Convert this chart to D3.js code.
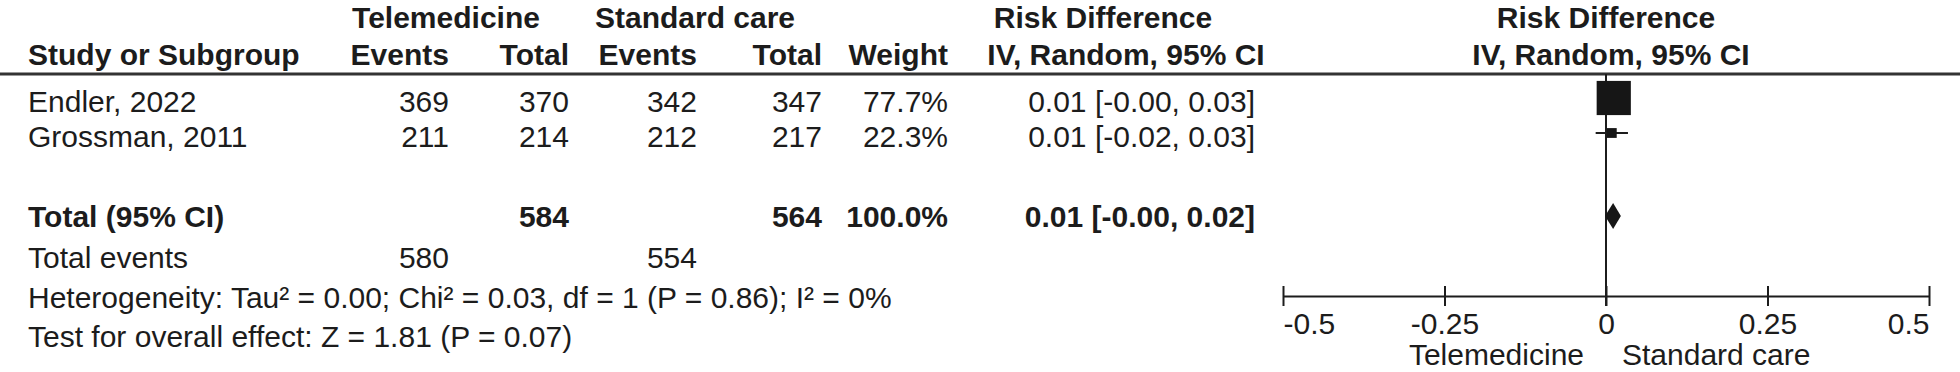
<!DOCTYPE html>
<html>
<head>
<meta charset="utf-8">
<script src="https://cdn.jsdelivr.net/npm/d3@7"></script>
<style>
    body { margin: 0; background: #fff; }
    text { font-family: "Liberation Sans", Arial, sans-serif; font-size: 30px; fill: #1c1c1c; }
    .bold { font-weight: bold; }
</style>
</head>
<body>
<div id="forest"></div>
<script>
const studies = ["Endler, 2022", "Grossman, 2011"];
const teleEvents = [369, 211];
const teleTotal = [370, 214];
const stdEvents = [342, 212];
const stdTotal = [347, 217];
const weights = [77.7, 22.3];
const rdEst = [0.012, 0.009];
const rdLow = [-0.002, -0.016];
const rdHigh = [0.025, 0.034];
const rdLabels = ["0.01 [-0.00, 0.03]", "0.01 [-0.02, 0.03]"];

const pooledRd = {est: 0.011, low: -0.0015, high: 0.023};
const pooledLabel = "0.01 [-0.00, 0.02]";
const totalParticipants = [584, 564];
const totalEvents = [580, 554];
const totalWeight = "100.0%";
const heterogeneity = "Heterogeneity: Tau\u00b2 = 0.00; Chi\u00b2 = 0.03, df = 1 (P = 0.86); I\u00b2 = 0%";
const overallEffect = "Test for overall effect: Z = 1.81 (P = 0.07)";

const axisTicks = [-0.5, -0.25, 0, 0.25, 0.5];
const favourLabels = ["Telemedicine", "Standard care"];

const w = 1960,
    h = 372;

// right-edge x of each numeric column
const col = {
    label: 28,
    teleEvents: 449,
    teleTotal: 569,
    stdEvents: 697,
    stdTotal: 822,
    weight: 948,
    rd: 1255
};

const headerLine = 74,
    axisY = 296;

let svg = d3.select("#forest")
    .append("svg")
    .attr("width", w)
    .attr("height", h);

let x = d3.scaleLinear().domain([-0.5, 0.5]).range([1283, 1929]);
let rowY = d3.scaleLinear().domain([0, 1]).range([112, 147]);
let boxSize = d3.scaleLinear().domain([0, 100]).range([0, 44]);

function addText(tx, ty, str, anchor, cls) {
    svg.append("text")
        .attr("x", tx)
        .attr("y", ty)
        .attr("text-anchor", anchor || "start")
        .attr("class", cls || null)
        .text(str);
}

// headers
addText(446, 28, "Telemedicine", "middle", "bold");
addText(695, 28, "Standard care", "middle", "bold");
addText(1103, 28, "Risk Difference", "middle", "bold");
addText(1606, 28, "Risk Difference", "middle", "bold");

addText(col.label, 65, "Study or Subgroup", "start", "bold");
addText(col.teleEvents, 65, "Events", "end", "bold");
addText(col.teleTotal, 65, "Total", "end", "bold");
addText(col.stdEvents, 65, "Events", "end", "bold");
addText(col.stdTotal, 65, "Total", "end", "bold");
addText(col.weight, 65, "Weight", "end", "bold");
addText(1126, 65, "IV, Random, 95% CI", "middle", "bold");
addText(1611, 65, "IV, Random, 95% CI", "middle", "bold");

svg.append("line")
    .attr("x1", 0).attr("x2", w)
    .attr("y1", headerLine).attr("y2", headerLine)
    .style("stroke", "#333")
    .style("stroke-width", 3);

// study rows
studies.forEach(function (s, i) {
    let y = rowY(i);
    addText(col.label, y, s);
    addText(col.teleEvents, y, teleEvents[i], "end");
    addText(col.teleTotal, y, teleTotal[i], "end");
    addText(col.stdEvents, y, stdEvents[i], "end");
    addText(col.stdTotal, y, stdTotal[i], "end");
    addText(col.weight, y, weights[i].toFixed(1) + "%", "end");
    addText(col.rd, y, rdLabels[i], "end");
});

// totals
const totalY = 227, eventsY = 268, hetY = 308, testY = 347;
addText(col.label, totalY, "Total (95% CI)", "start", "bold");
addText(col.teleTotal, totalY, totalParticipants[0], "end", "bold");
addText(col.stdTotal, totalY, totalParticipants[1], "end", "bold");
addText(col.weight, totalY, totalWeight, "end", "bold");
addText(col.rd, totalY, pooledLabel, "end", "bold");

addText(col.label, eventsY, "Total events");
addText(col.teleEvents, eventsY, totalEvents[0], "end");
addText(col.stdEvents, eventsY, totalEvents[1], "end");
addText(col.label, hetY, heterogeneity);
addText(col.label, testY, overallEffect);

// plot
svg.append("line")
    .attr("x1", x(0)).attr("x2", x(0))
    .attr("y1", headerLine).attr("y2", axisY + 10)
    .style("stroke", "#1c1c1c")
    .style("stroke-width", 2);

let marks = svg.append("g");

marks.selectAll("line.ci")
    .data(studies)
    .enter()
    .append("line")
    .attr("class", "ci")
    .attr("x1", function (d, i) { return x(rdLow[i]); })
    .attr("x2", function (d, i) { return x(rdHigh[i]); })
    .attr("y1", function (d, i) { return rowY(i) - 14; })
    .attr("y2", function (d, i) { return rowY(i) - 14; })
    .style("stroke", "#1c1c1c")
    .style("stroke-width", 2);

marks.selectAll("rect")
    .data(studies)
    .enter()
    .append("rect")
    .attr("x", function (d, i) { return x(rdEst[i]) - boxSize(weights[i]) / 2; })
    .attr("y", function (d, i) { return rowY(i) - 14 - boxSize(weights[i]) / 2; })
    .attr("width", function (d, i) { return boxSize(weights[i]); })
    .attr("height", function (d, i) { return boxSize(weights[i]); })
    .style("fill", "#161616");

const diamondY = 216, diamondHalf = 13;
marks.append("path")
    .attr("d", "M" + x(pooledRd.low) + "," + diamondY
        + "L" + x(pooledRd.est) + "," + (diamondY - diamondHalf)
        + "L" + x(pooledRd.high) + "," + diamondY
        + "L" + x(pooledRd.est) + "," + (diamondY + diamondHalf) + "Z")
    .style("fill", "#161616");

let axis = svg.append("g")
    .attr("transform", "translate(0," + axisY + ")")
    .call(d3.axisBottom(x)
        .tickValues(axisTicks)
        .tickSizeInner(10)
        .tickSizeOuter(0)
        .tickPadding(7)
        .tickFormat(function (d) { return d === 0 ? "0" : String(d); }));

axis.select(".domain").style("stroke", "#1c1c1c").style("stroke-width", 2);
axis.selectAll(".tick line")
    .attr("y1", -10)
    .style("stroke", "#1c1c1c")
    .style("stroke-width", 2);
axis.selectAll(".tick text")
    .attr("font-size", null)
    .attr("font-family", null)
    .attr("fill", null)
    .attr("text-anchor", function (d) {
        return d === -0.5 ? "start" : d === 0.5 ? "end" : "middle";
    });
axis.attr("font-size", null).attr("font-family", null);

addText(x(0) - 22, 365, favourLabels[0], "end");
addText(x(0) + 16, 365, favourLabels[1], "start");
</script>
</body>
</html>
